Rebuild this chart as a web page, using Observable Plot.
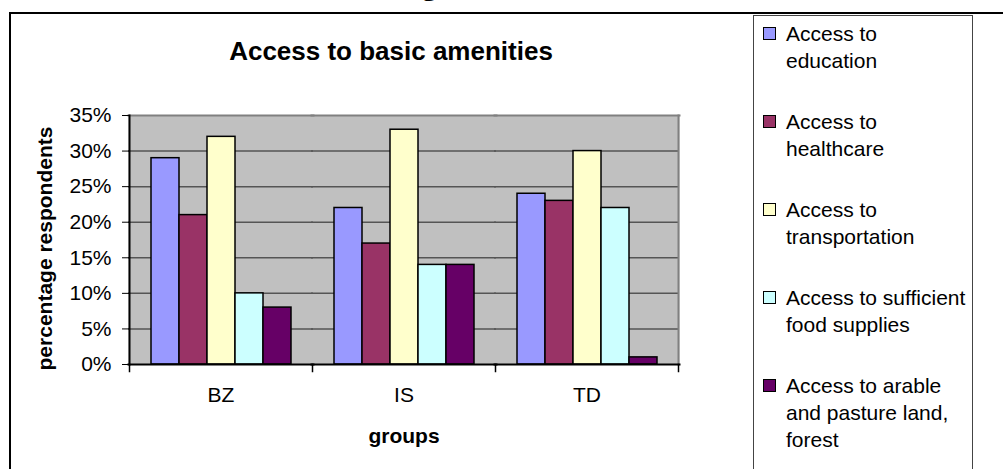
<!DOCTYPE html>
<html>
<head>
<meta charset="utf-8">
<script src="https://cdn.jsdelivr.net/npm/d3@7"></script>
<script src="https://cdn.jsdelivr.net/npm/@observablehq/plot@0.6"></script>
<style>
html, body { margin: 0; padding: 0; background: #fff; }
#page { position: relative; width: 1003px; height: 469px; overflow: hidden; font-family: "Liberation Sans", Arial, sans-serif; color: #000; }
#frame { position: absolute; left: 9px; top: 12px; width: 1100px; height: 600px; border-top: 2px solid #000; border-left: 2px solid #000; }
#chart { position: absolute; left: 0; top: 0; }
#chart svg { display: block; }
.cut { position: absolute; left: 422px; top: -30px; font-family: "Liberation Serif", "Times New Roman", serif; font-weight: bold; font-size: 30px; line-height: 30px; }
.title { position: absolute; top: 38px; left: 191px; width: 400px; text-align: center; font-size: 26px; font-weight: bold; line-height: 26px; white-space: nowrap; }
.ylabel { position: absolute; left: -105.8px; top: 237.5px; width: 300px; height: 21px; line-height: 21px; text-align: center; font-size: 21px; font-weight: bold; white-space: nowrap; transform: rotate(-90deg); transform-origin: 50% 50%; }
.xlabel { position: absolute; left: 304px; top: 425px; width: 200px; text-align: center; font-size: 21px; font-weight: bold; line-height: 21px; }
#legend { position: absolute; left: 753px; top: 15px; width: 218px; height: 520px; border: 1px solid #444; background: #fff; padding-top: 4px; box-sizing: content-box; }
.item { position: relative; padding-left: 32px; width: 185px; font-size: 21px; line-height: 27px; margin-bottom: 34px; }
.sw { position: absolute; left: 9px; top: 7px; width: 11px; height: 11px; border: 1px solid #000; }
</style>
</head>
<body>
<div id="page">
  <div id="frame"></div>
  <div class="cut">g</div>
  <div id="chart"></div>
  <div class="title">Access to basic amenities</div>
  <div class="ylabel">percentage respondents</div>
  <div class="xlabel">groups</div>
  <div id="legend"></div>
</div>
<script>
// ---- data ----
const groups = ["BZ", "IS", "TD"];
const series = [
  "Access to education",
  "Access to healthcare",
  "Access to transportation",
  "Access to sufficient food supplies",
  "Access to arable and pasture land, forest"
];
const education      = [0.29, 0.22, 0.24];
const healthcare     = [0.21, 0.17, 0.23];
const transportation = [0.32, 0.33, 0.30];
const foodSupplies   = [0.10, 0.14, 0.22];
const arableLand     = [0.08, 0.14, 0.01];
const yTicks = [0, 0.05, 0.10, 0.15, 0.20, 0.25, 0.30, 0.35];

// ---- styles ----
const palette = ["#9999FF", "#993366", "#FFFFCC", "#CCFFFF", "#660066"];

const valuesBySeries = [education, healthcare, transportation, foodSupplies, arableLand];
const rows = [];
groups.forEach((g, gi) => series.forEach((s, si) => rows.push({group: g, series: s, value: valuesBySeries[si][gi]})));

const W = 1003, H = 469, mL = 128, mR = 325, mT = 115, mB = 105;
const innerH = H - mT - mB;

const chart = Plot.plot({
  width: W, height: H,
  marginLeft: mL, marginRight: mR, marginTop: mT, marginBottom: mB,
  style: {fontFamily: '"Liberation Sans", Arial, sans-serif', fontSize: "21px", color: "#000", background: "transparent", overflow: "visible"},
  fx: {domain: groups, padding: 0, label: null},
  x: {domain: series, paddingInner: 0, paddingOuter: 0.7, axis: null},
  y: {domain: [yTicks[0], yTicks[yTicks.length - 1]], label: null},
  color: {domain: series, range: palette},
  marks: [
    Plot.frame({fill: "#C0C0C0", stroke: "none", insetLeft: -1, insetRight: -1}),
    Plot.gridY(yTicks.slice(1, -1), {stroke: "#555", strokeOpacity: 1, strokeWidth: 1.5, insetLeft: -1, insetRight: -1}),
    Plot.frame({anchor: "top", stroke: "#808080", strokeWidth: 2, insetLeft: -1, insetRight: -1}),
    Plot.frame({anchor: "right", facetAnchor: "right", stroke: "#808080", strokeWidth: 2}),
    Plot.barY(rows, {fx: "group", x: "series", y: "value", fill: "series", stroke: "#000", strokeWidth: 1.5}),
    Plot.frame({anchor: "bottom", stroke: "#000", strokeWidth: 2, insetLeft: -1, insetRight: -1}),
    Plot.frame({anchor: "left", facetAnchor: "left", stroke: "#000", strokeWidth: 2}),
    Plot.frame({anchor: "left", insetTop: innerH, insetBottom: -7, stroke: "#000", strokeWidth: 1.5}),
    Plot.frame({anchor: "right", facetAnchor: "right", insetTop: innerH, insetBottom: -7, stroke: "#000", strokeWidth: 1.5}),
    Plot.axisY({ticks: yTicks, tickFormat: d3.format(".0%"), tickSize: 7, tickPadding: 11, label: null, stroke: "#000"}),
    Plot.axisFx({anchor: "bottom", tickSize: 0, tickPadding: 23, label: null})
  ]
});
document.getElementById("chart").appendChild(chart);

// legend
const legend = document.getElementById("legend");
series.forEach((s, i) => {
  const item = document.createElement("div");
  item.className = "item";
  const sw = document.createElement("span");
  sw.className = "sw";
  sw.style.background = palette[i];
  item.appendChild(sw);
  item.appendChild(document.createTextNode(s));
  legend.appendChild(item);
});
</script>
</body>
</html>
